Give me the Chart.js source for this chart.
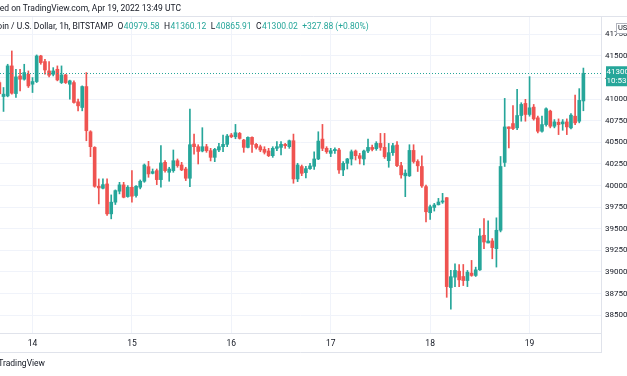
<!DOCTYPE html>
<html>
<head>
<meta charset="utf-8">
<script src="https://cdn.jsdelivr.net/npm/chart.js@4.4.1/dist/chart.umd.min.js"></script>
<style>
  html, body { margin: 0; padding: 0; background: #fff; }
  #wrap { position: relative; width: 627px; height: 376px; }
</style>
</head>
<body>
<div id="wrap"><canvas id="btc" width="627" height="376"></canvas></div>
<script>
// BTC/USD 1h candles, hour 0 = Apr 14 00:00 UTC, first candle at hour -8
var FIRST_HOUR = -8;

var opens = [
  41192, 41031, 41038, 41385, 41065, 41269, 41231, 41288,
  41173, 41204, 41500, 41435, 41327, 41288, 41346, 41192,
  41281, 41173, 41192, 40969, 40904, 41146, 40623, 40442,
  39992, 39969, 40019, 39673, 39808, 39935, 40008, 39873,
  39981, 39885, 39981, 40050, 40219, 40142, 40173, 40069,
  40269, 40154, 40173, 40288, 40238, 40192, 40085, 40481,
  40450, 40400, 40450, 40404, 40327, 40412, 40450, 40477,
  40585, 40565, 40604, 40527, 40442, 40558, 40477, 40450,
  40419, 40400, 40346, 40431, 40442, 40477, 40450, 40519,
  40077, 40220, 40150, 40196, 40223, 40308, 40538, 40431,
  40373, 40404, 40412, 40181, 40258, 40308, 40400, 40346,
  40308, 40400, 40442, 40427, 40488, 40442, 40288, 40381,
  40469, 40231, 40113, 40113, 40407, 40279, 40221, 39988,
  39686, 39747, 39778, 39810, 39860, 38820, 38940, 39010,
  38948, 38901, 38987, 38960, 39025, 39425, 39336, 39359,
  39270, 39483, 40268, 40679, 40718, 40668, 40811, 40951,
  40823, 40908, 40784, 40629, 40706, 40862, 40687, 40733,
  40714, 40737, 40668, 40803, 40745, 40979.58
];
var highs = [
  41212, 41135, 41404, 41558, 41346, 41346, 41404, 41327,
  41250, 41512, 41508, 41462, 41435, 41365, 41385, 41385,
  41288, 41220, 41212, 41000, 41154, 41308, 40635, 40450,
  40077, 40077, 40077, 39892, 39950, 40038, 40038, 40000,
  40173, 40000, 40065, 40250, 40281, 40192, 40192, 40462,
  40288, 40212, 40412, 40308, 40269, 40212, 40885, 40596,
  40473, 40670, 40477, 40431, 40431, 40488, 40585, 40592,
  40604, 40708, 40615, 40535, 40565, 40565, 40488, 40469,
  40450, 40431, 40450, 40508, 40508, 40488, 40527, 40596,
  40258, 40238, 40223, 40258, 40392, 40623, 40708, 40450,
  40431, 40438, 40431, 40277, 40315, 40412, 40412, 40373,
  40412, 40538, 40469, 40508, 40604, 40604, 40488, 40488,
  40508, 40268, 40182, 40473, 40473, 40299, 40345, 40007,
  39775, 39794, 39852, 39910, 39862, 39018, 39095, 39087,
  39087, 39018, 39134, 39056, 39503, 39619, 39592, 39387,
  39627, 40337, 41009, 40679, 40927, 41114, 40959, 40998,
  41261, 40939, 40803, 40803, 40900, 40873, 40764, 40772,
  40764, 40772, 40834, 41048, 41122, 41360.12
];
var lows = [
  41058, 40858, 41027, 41058, 41019, 41096, 41220, 41135,
  41077, 41192, 41404, 41288, 41258, 41269, 41212, 41181,
  41181, 41000, 40954, 40865, 40865, 40519, 40335, 39981,
  39788, 39962, 39654, 39615, 39781, 39904, 39858, 39865,
  39808, 39865, 39962, 40038, 40096, 40135, 40011, 39981,
  40154, 40050, 40154, 40212, 40173, 40058, 39988, 40365,
  40250, 40390, 40385, 40285, 40277, 40392, 40392, 40450,
  40554, 40542, 40538, 40385, 40435, 40385, 40423, 40392,
  40365, 40335, 40327, 40404, 40354, 40431, 40431, 40027,
  40046, 40115, 40088, 40188, 40188, 40300, 40404, 40373,
  40335, 40373, 40142, 40115, 40192, 40238, 40296, 40250,
  40238, 40381, 40400, 40408, 40408, 40315, 40212, 40350,
  40219, 40085, 39872, 40105, 40260, 40163, 39980, 39580,
  39608, 39705, 39775, 39794, 38707, 38571, 38831, 38831,
  38843, 38831, 38950, 38948, 39018, 39270, 39336, 39153,
  39057, 39464, 40221, 40435, 40648, 40648, 40745, 40745,
  40803, 40757, 40609, 40617, 40687, 40668, 40668, 40590,
  40640, 40590, 40656, 40706, 40726, 40865.91
];
var closes = [
  41065, 41058, 41385, 41069, 41258, 41231, 41308, 41154,
  41204, 41500, 41423, 41338, 41277, 41327, 41223, 41281,
  41192, 41212, 40962, 40923, 41146, 40635, 40450, 39992,
  39973, 40011, 39673, 39808, 39942, 40008, 39865, 39981,
  39877, 39992, 40050, 40238, 40135, 40162, 40069, 40262,
  40173, 40192, 40288, 40231, 40181, 40085, 40473, 40450,
  40395, 40450, 40404, 40327, 40419, 40450, 40477, 40573,
  40565, 40612, 40546, 40442, 40558, 40477, 40442, 40412,
  40385, 40346, 40431, 40450, 40477, 40462, 40519, 40077,
  40238, 40142, 40196, 40227, 40308, 40515, 40431, 40392,
  40404, 40419, 40181, 40258, 40308, 40392, 40346, 40315,
  40400, 40442, 40419, 40488, 40442, 40335, 40381, 40462,
  40231, 40124, 40144, 40407, 40279, 40229, 39996, 39697,
  39755, 39775, 39810, 39823, 38831, 38946, 39018, 38909,
  38901, 38998, 38960, 39025, 39417, 39347, 39359, 39282,
  39483, 40221, 40679, 40660, 40660, 40811, 40939, 40823,
  40900, 40772, 40629, 40706, 40889, 40687, 40737, 40706,
  40737, 40679, 40815, 40726, 40986, 41300.02
];

var dayHours = [0, 24, 48, 72, 96, 120];
var dayLabels = ['14', '15', '16', '17', '18', '19'];
var priceTicks = [38500, 38750, 39000, 39250, 39500, 39750, 40000, 40250,
  40500, 40750, 41000, 41250, 41500, 41750];
var lastPrice = 41300.02;

var GREEN = '#26a69a';
var RED = '#ef5350';
var TEXT = '#131722';
var FONT = 'Roboto, "Liberation Sans", sans-serif';

var candleColors = closes.map(function (c, i) { return c >= opens[i] ? GREEN : RED; });
var bodies = opens.map(function (o, i) { return {x: FIRST_HOUR + i, y: [o, closes[i]]}; });
var wicks = lows.map(function (l, i) { return {x: FIRST_HOUR + i, y: [l, highs[i]]}; });

// frame lines, header texts, last price line and label
var decor = {
  id: 'decor',
  beforeDraw: function (chart) {
    var ctx = chart.ctx;
    ctx.save();
    ctx.fillStyle = '#fff';
    ctx.fillRect(0, 0, chart.width, chart.height);
    ctx.restore();
  },
  afterDatasetsDraw: function (chart) {
    var ctx = chart.ctx, area = chart.chartArea;
    var py = Math.round(chart.scales.y.getPixelForValue(lastPrice)) + 0.5;
    ctx.save();
    ctx.strokeStyle = GREEN;
    ctx.lineWidth = 1;
    ctx.setLineDash([1, 2]);
    ctx.beginPath();
    ctx.moveTo(area.left, py);
    ctx.lineTo(area.right, py);
    ctx.stroke();
    ctx.restore();
  },
  afterDraw: function (chart) {
    var ctx = chart.ctx, area = chart.chartArea;
    var py = chart.scales.y.getPixelForValue(lastPrice);
    ctx.save();

    // outer frame lines
    ctx.strokeStyle = '#e0e3eb';
    ctx.lineWidth = 1;
    ctx.beginPath();
    ctx.moveTo(0, area.top - 0.5); ctx.lineTo(chart.width, area.top - 0.5);
    ctx.moveTo(0, 352.5); ctx.lineTo(area.right, 352.5);
    ctx.moveTo(area.right + 0.5, area.top); ctx.lineTo(area.right + 0.5, 353);
    ctx.stroke();

    // header
    ctx.textBaseline = 'middle';
    ctx.font = '8.5px ' + FONT;
    ctx.fillStyle = TEXT;
    ctx.textAlign = 'right';
    ctx.fillText('Published on TradingView.com, Apr 19, 2022 13:49 UTC', 181, 9);
    ctx.fillText('Bitcoin / U.S. Dollar, 1h, BITSTAMP', 113, 27);
    ctx.textAlign = 'left';
    var segs = [['O', TEXT], ['40979.58', GREEN], ['H', TEXT], ['41360.12', GREEN],
      ['L', TEXT], ['40865.91', GREEN], ['C', TEXT], ['41300.02', GREEN],
      ['+327.88 (+0.80%)', GREEN]];
    var x = 117.5;
    segs.forEach(function (s) {
      ctx.fillStyle = s[1];
      ctx.fillText(s[0], x, 27);
      x += ctx.measureText(s[0]).width + (s[1] === TEXT ? 0.5 : 4.5);
    });

    // footer
    ctx.fillStyle = TEXT;
    ctx.textAlign = 'right';
    ctx.font = '8.5px ' + FONT;
    ctx.fillText('TradingView', 45, 364);

    // currency box on the axis
    ctx.fillStyle = '#fff';
    ctx.fillRect(616.5, 23.5, 12, 10);
    ctx.strokeStyle = '#b2b5be';
    ctx.strokeRect(616.5, 23.5, 12, 10);
    ctx.fillStyle = TEXT;
    ctx.textAlign = 'left';
    ctx.font = '7.5px ' + FONT;
    ctx.fillText('US', 618, 28.5);

    // last price label
    ctx.fillStyle = GREEN;
    ctx.fillRect(area.right + 5, py - 7, 30, 20);
    ctx.fillStyle = '#fff';
    ctx.font = '8px ' + FONT;
    ctx.fillText('41300', area.right + 5.5, py - 1.5);
    ctx.fillText('10:53', area.right + 5.5, py + 8);
    ctx.restore();
  }
};

var config = {
  type: 'bar',
  data: {
    datasets: [
      {
        label: 'body',
        data: bodies,
        backgroundColor: candleColors,
        borderWidth: 0,
        barThickness: 3,
        minBarLength: 1,
        grouped: false,
        order: 0
      },
      {
        label: 'wick',
        data: wicks,
        backgroundColor: candleColors,
        borderWidth: 0,
        barThickness: 1,
        grouped: false,
        order: 1
      }
    ]
  },
  options: {
    responsive: false,
    animation: false,
    devicePixelRatio: 1,
    layout: { padding: { top: 17, bottom: 24, left: 0, right: 0 } },
    plugins: { legend: { display: false }, tooltip: { enabled: false } },
    scales: {
      x: {
        type: 'linear',
        min: -7.85,
        max: 137.25,
        offset: false,
        grid: { offset: false, color: '#f0f3fa', drawTicks: false },
        border: { color: '#e0e3eb' },
        afterBuildTicks: function (s) { s.ticks = dayHours.map(function (v) { return {value: v}; }); },
        afterFit: function (s) { s.height = 19; },
        ticks: {
          padding: 6, color: TEXT, maxRotation: 0, autoSkip: false,
          font: { family: FONT, size: 8.5 },
          callback: function (v) { var k = dayHours.indexOf(v); return k < 0 ? '' : dayLabels[k]; }
        }
      },
      y: {
        position: 'right',
        min: 38294,
        max: 41951,
        grid: { color: '#f0f3fa', drawTicks: false },
        border: { color: '#e0e3eb' },
        afterBuildTicks: function (s) { s.ticks = priceTicks.map(function (v) { return {value: v}; }); },
        afterFit: function (s) { s.width = 26; },
        ticks: {
          padding: 4, color: TEXT,
          font: { family: FONT, size: 8 },
          callback: function (v) { return String(v); }
        }
      }
    }
  },
  plugins: [decor]
};

var ctx = document.getElementById('btc').getContext('2d');
var btcChart = new Chart(ctx, config);
</script>
</body>
</html>
